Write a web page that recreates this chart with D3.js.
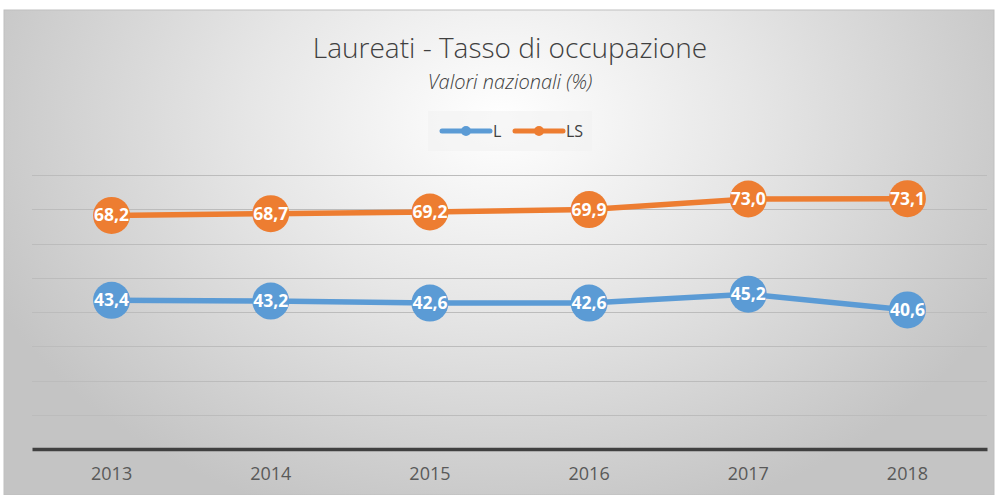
<!DOCTYPE html>
<html>
<head>
<meta charset="utf-8">
<script src="https://cdn.jsdelivr.net/npm/d3@7"></script>
<style>
  body { margin: 0; background: #fff; }
  svg { display: block; font-family: "Open Sans", sans-serif; }
</style>
</head>
<body>
<svg id="chart" width="1002" height="495"></svg>
<script>
// data
var years = ["2013", "2014", "2015", "2016", "2017", "2018"];
var L_values = [43.4, 43.2, 42.6, 42.6, 45.2, 40.6];
var LS_values = [68.2, 68.7, 69.2, 69.9, 73.0, 73.1];
var series_names = ["L", "LS"];
var y_ticks = [0, 10, 20, 30, 40, 50, 60, 70, 80];

var colors = { "L": "#5b9bd5", "LS": "#ed7d31" };

var svg = d3.select("#chart");

// background with radial gradient
var defs = svg.append("defs");
var grad = defs.append("radialGradient")
  .attr("id", "bg")
  .attr("gradientUnits", "userSpaceOnUse")
  .attr("cx", 500).attr("cy", 120)
  .attr("r", 560)
  .attr("gradientTransform", "translate(500,120) scale(1,0.75) translate(-500,-120)");
grad.append("stop").attr("offset", "0%").attr("stop-color", "#ffffff");
grad.append("stop").attr("offset", "45%").attr("stop-color", "#e6e6e6");
grad.append("stop").attr("offset", "100%").attr("stop-color", "#c4c4c4");

svg.append("rect")
  .attr("x", 4).attr("y", 10)
  .attr("width", 990).attr("height", 485)
  .attr("fill", "url(#bg)")
  .attr("stroke", "#bfbfbf")
  .attr("stroke-width", 1);

var x = d3.scaleBand().domain(years).range([32, 987]).padding(0);
var y = d3.scaleLinear().domain([0, 80]).range([449, 175]);

// gridlines
svg.append("g").selectAll("line")
  .data(y_ticks.filter(function(d) { return d > 0; }))
  .enter().append("line")
    .attr("x1", 32).attr("x2", 987)
    .attr("y1", function(d) { return Math.round(y(d)) + 0.5; })
    .attr("y2", function(d) { return Math.round(y(d)) + 0.5; })
    .attr("stroke", "#bcbcbc")
    .attr("stroke-width", 1.2);

// x axis
var xAxis = svg.append("g")
  .attr("transform", "translate(0," + y(0) + ")")
  .call(d3.axisBottom(x).tickSize(0).tickPadding(18));
xAxis.select(".domain").attr("stroke", "#404040").attr("stroke-width", 3.5);
xAxis.selectAll("text")
  .attr("fill", "#595959")
  .attr("dy", "0.7em")
  .style("font-size", "18px")
  .style("font-family", "'Open Sans', sans-serif");

// title
svg.append("text")
  .attr("x", 510).attr("y", 58)
  .attr("text-anchor", "middle")
  .attr("fill", "#404040")
  .style("font-size", "28px")
  .style("font-weight", "300")
  .text("Laureati - Tasso di occupazione");

svg.append("text")
  .attr("x", 510).attr("y", 89)
  .attr("text-anchor", "middle")
  .attr("fill", "#404040")
  .style("font-size", "20px")
  .style("font-style", "italic")
  .style("font-weight", "300")
  .text("Valori nazionali (%)");

// legend
var legend = svg.append("g");
legend.append("rect")
  .attr("x", 428).attr("y", 111)
  .attr("width", 164).attr("height", 40)
  .attr("fill", "#f2f2f2")
  .attr("opacity", 0.6);

var legendX = { "L": 442, "LS": 515 };
series_names.forEach(function(name) {
  var lx = legendX[name];
  legend.append("line")
    .attr("x1", lx).attr("x2", lx + 48)
    .attr("y1", 131).attr("y2", 131)
    .attr("stroke", colors[name]).attr("stroke-width", 5)
    .attr("stroke-linecap", "round");
  legend.append("circle")
    .attr("cx", lx + 24).attr("cy", 131).attr("r", 5)
    .attr("fill", colors[name]);
  legend.append("text")
    .attr("x", lx + 51).attr("y", 137)
    .attr("fill", "#404040")
    .style("font-size", "16px")
    .text(name);
});

// series
var data = [
  { name: "LS", values: LS_values },
  { name: "L", values: L_values }
];

var line = d3.line()
  .x(function(d, i) { return x(years[i]) + x.bandwidth() / 2; })
  .y(function(d) { return y(d); });

data.forEach(function(D) {
  var g = svg.append("g").attr("class", "series_" + D.name);
  g.append("path")
    .datum(D.values)
    .attr("d", line)
    .attr("fill", "none")
    .attr("stroke", colors[D.name])
    .attr("stroke-width", 5.5)
    .attr("stroke-linejoin", "round");

  g.selectAll("circle")
    .data(D.values)
    .enter().append("circle")
      .attr("cx", function(d, i) { return x(years[i]) + x.bandwidth() / 2; })
      .attr("cy", function(d) { return y(d); })
      .attr("r", 18.5)
      .attr("fill", colors[D.name]);

  g.selectAll("text")
    .data(D.values)
    .enter().append("text")
      .attr("x", function(d, i) { return x(years[i]) + x.bandwidth() / 2; })
      .attr("y", function(d) { return y(d) + 6; })
      .attr("text-anchor", "middle")
      .attr("fill", "#ffffff")
      .style("font-size", "17.5px")
      .style("font-weight", "bold")
      .text(function(d) { return d.toFixed(1).replace(".", ","); });
});
</script>
</body>
</html>
